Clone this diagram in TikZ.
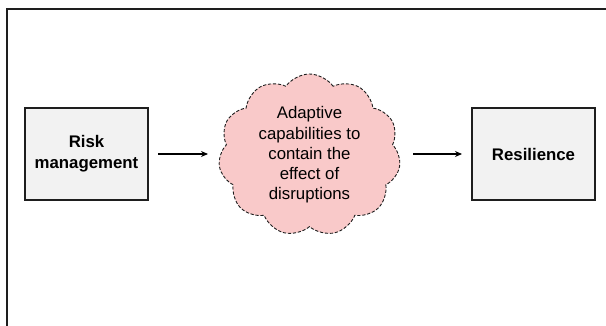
\documentclass[tikz,border=0pt]{standalone}
\usepackage{fontspec}
\setmainfont{Liberation Sans}
\usetikzlibrary{shapes.symbols,arrows.meta}
\definecolor{boxgray}{RGB}{242,242,242}
\definecolor{cloudpink}{RGB}{249,201,201}
\definecolor{edgec}{RGB}{30,30,30}
\begin{document}
\begin{tikzpicture}[x=1pt,y=-1pt,
  boxnode/.style={draw=edgec, line width=1.6pt, fill=boxgray, minimum width=123pt, minimum height=92pt, inner sep=0pt, align=center, font=\fontsize{16.8}{21}\selectfont\bfseries},
  cloudnode/.style={cloud, cloud puffs=11, cloud puff arc=110, aspect=1.05, draw=edgec, dash pattern=on 3.2pt off 1.8pt, line width=0.9pt, fill=cloudpink, minimum width=182pt, minimum height=162pt, inner sep=0pt, align=center, font=\fontsize{16.8}{20.3}\selectfont},
  arr/.style={-{Stealth[length=7pt,width=6pt]}, line width=1.2pt, draw=black}]
\useasboundingbox (0,0) rectangle (606,326);
\fill[white] (0,0) rectangle (606,326);
\draw[line width=2pt, draw=edgec] (7,9.5) rectangle (620,340);
\node[boxnode] (risk) at (86.5,154) {Risk\\management};
\node[cloudnode] (cloud) at (309.5,155) {Adaptive\\capabilities to\\contain the\\effect of\\disruptions};
\node[boxnode] (res) at (533.5,154) {Resilience};
\coordinate (a1s) at (158,154);
\coordinate (a1e) at (208,154);
\coordinate (a2s) at (413,154);
\coordinate (a2e) at (462,154);
\draw[arr] (a1s) -- (a1e);
\draw[arr] (a2s) -- (a2e);
\end{tikzpicture}
\end{document}
